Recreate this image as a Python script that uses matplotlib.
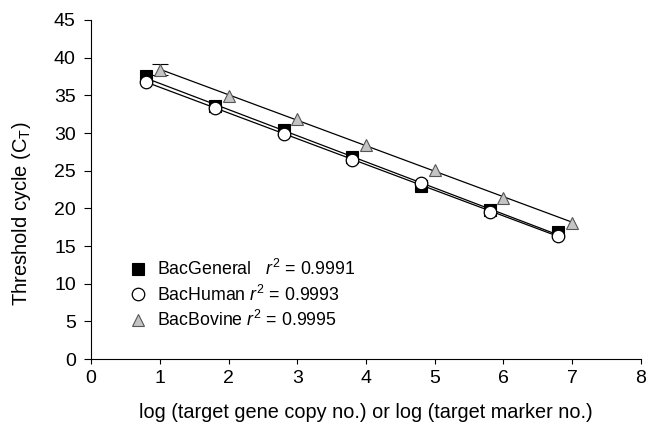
import numpy as np
import matplotlib
matplotlib.use("Agg")
import matplotlib.pyplot as plt

plt.rcParams['font.family'] = ['Liberation Sans', 'DejaVu Sans']
plt.rcParams['mathtext.fontset'] = 'custom'
plt.rcParams['mathtext.rm'] = 'Liberation Sans'
plt.rcParams['mathtext.it'] = 'Liberation Sans:italic'
plt.rcParams['font.size'] = 14

# data
x_gen = [0.8, 1.8, 2.8, 3.8, 4.8, 5.8, 6.8]
ct_gen = [37.6, 33.6, 30.4, 26.8, 23.0, 19.8, 16.9]
x_hum = [0.8, 1.8, 2.8, 3.8, 4.8, 5.8, 6.8]
ct_hum = [36.8, 33.3, 29.9, 26.4, 23.4, 19.5, 16.3]
x_bov = [1, 2, 3, 4, 5, 6, 7]
ct_bov = [38.4, 34.9, 31.9, 28.4, 25.1, 21.4, 18.1]
err_bov = [0.7, 0, 0, 0, 0, 0, 0]

labels = ["BacGeneral   $r^2$ = 0.9991",
          "BacHuman $r^2$ = 0.9993",
          "BacBovine $r^2$ = 0.9995"]

fig = plt.figure(figsize=(6.6, 4.25), dpi=100)
ax = fig.add_axes([0.138, 0.155, 0.833, 0.798])


def fit_line(x, y):
    k, b = np.polyfit(x, y, 1)
    xs = np.array([x[0], x[-1]])
    ax.plot(xs, k * xs + b, color='black', lw=0.9, zorder=2)


fit_line(x_gen, ct_gen)
fit_line(x_hum, ct_hum)
fit_line(x_bov, ct_bov)

# only the error bars that stick out of the markers
xe = [x for x, e in zip(x_bov, err_bov) if e > 0]
ye = [y for y, e in zip(ct_bov, err_bov) if e > 0]
ee = [e for e in err_bov if e > 0]
ax.errorbar(xe, ye, yerr=ee, fmt='none', ecolor='black',
            elinewidth=0.8, capsize=6, capthick=0.8, zorder=3)

h1, = ax.plot(x_gen, ct_gen, 's', ms=8, mfc='black', mec='black', mew=0.8, zorder=4)
h2, = ax.plot(x_hum, ct_hum, 'o', ms=9, mfc='white', mec='black', mew=0.9, zorder=5)
h3, = ax.plot(x_bov, ct_bov, '^', ms=9, mfc='#c4c4c4', mec='#555555', mew=0.8, zorder=4)

ax.legend([h1, h2, h3], labels, frameon=False, loc='lower left',
          bbox_to_anchor=(0.056, 0.065), handlelength=1.0, handletextpad=0.6,
          labelspacing=0.3, borderaxespad=0, fontsize=12.8)

ax.set_xlim(0, 8)
ax.set_ylim(0, 45)
ax.set_xticks(range(0, 9))
ax.set_yticks(range(0, 46, 5))
ax.spines['top'].set_visible(False)
ax.spines['right'].set_visible(False)
ax.tick_params(direction='out', width=0.8, labelsize=14)
ax.tick_params(axis='y', length=5, pad=6)
ax.tick_params(axis='x', length=3.5, pad=4)
ax.set_xlabel("log (target gene copy no.) or log (target marker no.)",
              fontsize=14.3, labelpad=12)
ax.set_ylabel("Threshold cycle (C$_\\mathrm{T}$)", fontsize=14.5)
ax.yaxis.set_label_coords(-0.105, 0.43)

fig.savefig("out.png", dpi=100)
